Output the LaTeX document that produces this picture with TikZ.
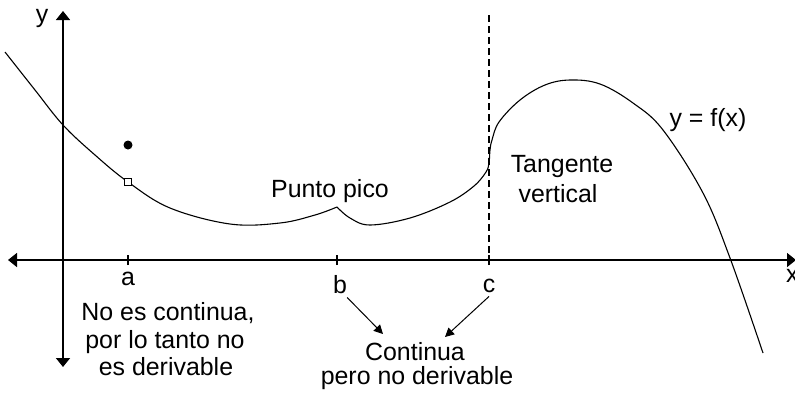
\documentclass[tikz,border=0pt]{standalone}
\usepackage{fontspec}
\setmainfont{Liberation Sans}
\usetikzlibrary{arrows.meta}
\begin{document}
\begin{tikzpicture}[x=1bp,y=-1bp,
  axis/.style={line width=1.6bp},
  curve/.style={line width=1.1bp},
  lbl/.style={font=\fontsize{25}{28}\selectfont, inner sep=0pt, anchor=base},
  ptr/.style={line width=1bp,-{Triangle[length=9bp,width=9bp]}},
  tickmark/.style={line width=1.4bp}]
\useasboundingbox (0,0) rectangle (795,393);
% axes
\coordinate (ytop) at (63,11);
\coordinate (ybot) at (63,367);
\coordinate (xl) at (8,260);
\coordinate (xr) at (796,260);
\draw[axis,{Triangle[length=9bp,width=14bp]}-{Triangle[length=9bp,width=14bp]}] (ybot) -- (ytop);
\draw[axis,{Triangle[length=9bp,width=14bp]}-{Triangle[length=9bp,width=14bp]}] (xl) -- (xr);
% ticks
\coordinate (ta) at (128,260);
\coordinate (tb) at (337,260);
\coordinate (tc) at (489,260);
\foreach \t in {ta,tb,tc} \draw[tickmark] ([yshift=-5bp]\t) -- ([yshift=5bp]\t);
% dashed vertical at c
\coordinate (dtop) at (489,15);
\draw[line width=1.1bp, dash pattern=on 7bp off 4bp] (dtop) -- (tc);
% curve
\draw[curve] plot[smooth, tension=0.6] coordinates {(5,52) (35,90) (63,125) (95,155) (128,182) (170,208) (230,224) (280,223) (315,215) (337,207)};
\draw[curve] plot[smooth, tension=0.6] coordinates {(337,207) (350,218) (370,225) (410,218) (450,202) (474,186) (486,172) (489,163) (490,150) (492,140) (499,122) (520,100) (545,85) (570,80) (600,84) (633,103) (663,130) (703,193) (730,258) (763,353)};
% open and filled points
\node[draw, fill=white, minimum size=7bp, inner sep=0pt, line width=1bp] (hole) at (128,182) {};
\node[circle, fill, minimum size=9bp, inner sep=0pt] (dot) at (128,145) {};
% labels
\node[lbl] (ylab) at (42,22) {y};
\node[lbl, anchor=base west] (xlab) at (786,282) {x};
\node[lbl] (la) at (128,285) {a};
\node[lbl] (lb) at (340,293) {b};
\node[lbl] (lc) at (489,292) {c};
\node[lbl] (n1) at (168,320) {No es continua,};
\node[lbl] (n2) at (165,348) {por lo tanto no};
\node[lbl] (n3) at (166,375) {es derivable};
\node[lbl] (pico) at (330,197) {Punto pico};
\node[lbl] (t1) at (562,172) {Tangente};
\node[lbl] (t2) at (558,202) {vertical};
\node[lbl] (fx) at (708,126) {y = f(x)};
\node[lbl] (c1) at (415,360) {Continua};
\node[lbl] (c2) at (417,384) {pero no derivable};
% pointers
\coordinate (pb) at (383,334);
\coordinate (pc) at (445,337);
\draw[ptr] (lb.south east) ++(0,4) -- (pb);
\draw[ptr] (lc.south) ++(0,4) -- (pc);
\end{tikzpicture}
\end{document}
